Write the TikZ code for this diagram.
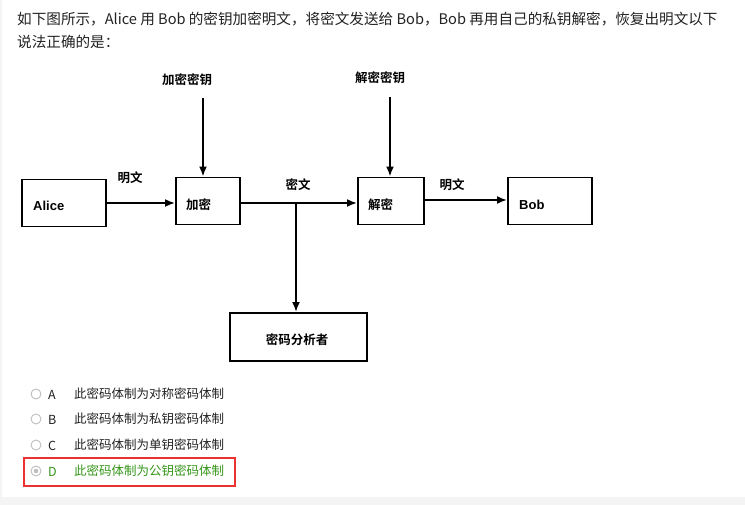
\documentclass[tikz,border=0pt]{standalone}
\usepackage{fontspec}
\setmainfont{Noto Sans CJK SC}
\newfontfamily\cjkb{Noto Sans CJK SC}[BoldFont=* Bold]
\newfontfamily\arialn{Liberation Sans}
\usetikzlibrary{arrows.meta}
\definecolor{txt}{RGB}{34,34,34}
\definecolor{okgreen}{RGB}{52,150,24}
\definecolor{redbox}{RGB}{235,50,50}
\definecolor{stripgray}{RGB}{244,244,244}
\definecolor{radiogray}{RGB}{190,190,190}
\tikzset{
  box/.style={draw, line width=1.9pt, minimum width=#1, minimum height=47pt, inner sep=0pt},
  lbl/.style={font=\cjkb\bfseries\fontsize{12.5}{14}\selectfont, inner sep=0pt},
  conn/.style={line width=1.9pt, -{Latex[length=10pt,width=8pt]}},
  para/.style={font=\fontsize{14.6}{17}\selectfont, text=txt, anchor=west, inner sep=0pt},
  opt/.style={font=\fontsize{12.5}{15}\selectfont, text=txt, anchor=west, inner sep=0pt},
  radio/.style={circle, draw=radiogray, fill=white, line width=0.9pt, minimum size=10pt, inner sep=0pt},
}
\begin{document}
\begin{tikzpicture}[x=1pt,y=-1pt]
\useasboundingbox (0,0) rectangle (745,505);
\fill[white] (0,0) rectangle (745,505);
\fill[stripgray] (0,497) rectangle (745,505);
\fill[stripgray] (0,0) rectangle (2,497);

% question text
\node[para] (q1) at (17,19) {如下图所示，Alice 用 Bob 的密钥加密明文，将密文发送给 Bob，Bob 再用自己的私钥解密，恢复出明文以下};
\node[para] (q2) at (17,42) {说法正确的是：};

% diagram
\node[box=84pt] (alice) at (64,203) {};
\node[anchor=west, inner sep=0pt, font=\arialn\fontsize{13}{15}\selectfont\bfseries] (alicet) at (33,206) {Alice};
\node[box=64pt] (enc) at (208,201) {};
\node[lbl, anchor=west] (enct) at (186,205) {加密};
\node[box=66pt] (dec) at (391,201) {};
\node[lbl, anchor=west] (dect) at (368,205) {解密};
\node[box=84pt] (bob) at (550,201) {};
\node[anchor=west, inner sep=0pt, font=\arialn\fontsize{13}{15}\selectfont\bfseries] (bobt) at (519,205) {Bob};
\node[box=137pt, minimum height=48pt] (ana) at (298.5,337) {};
\node[lbl] (anat) at (297,340) {密码分析者};

\node[lbl] (ekey) at (187,80) {加密密钥};
\node[lbl] (dkey) at (380,78) {解密密钥};
\node[lbl] (p1) at (130,178) {明文};
\node[lbl] (c1) at (298,185) {密文};
\node[lbl] (p2) at (452,185) {明文};

\coordinate (ekeyend) at (203,98);
\coordinate (dkeyend) at (390,97);
\coordinate (branch) at (296,203);

\draw[conn] (alice.east |- 0,203) -- (enc.west |- 0,203);
\draw[conn] (ekeyend) -- (ekeyend |- enc.north);
\draw[conn] (dkeyend) -- (dkeyend |- dec.north);
\draw[conn] (enc.east |- 0,203) -- (dec.west |- 0,203);
\draw[conn] (branch) -- (branch |- ana.north);
\draw[conn] (dec.east |- 0,200) -- (bob.west |- 0,200);

% options
\node[radio] (ra) at (36,394) {};
\node[radio] (rb) at (36,419) {};
\node[radio] (rc) at (36,445) {};
\node[radio] (rd) at (36,471) {};
\fill[radiogray] (rd) circle (2.3pt);
\node[opt] (la) at (48,395) {A};
\node[opt] (lb) at (48,420) {B};
\node[opt] (lc) at (48,446) {C};
\node[opt, text=okgreen] (ld) at (48,472) {D};
\node[opt] (ta) at (74,394) {此密码体制为对称密码体制};
\node[opt] (tb) at (74,419) {此密码体制为私钥密码体制};
\node[opt] (tc) at (74,445) {此密码体制为单钥密码体制};
\node[opt, text=okgreen] (td) at (74,471) {此密码体制为公钥密码体制};
\draw[redbox, line width=2pt] (24,458) rectangle (235,486);
\end{tikzpicture}
\end{document}
